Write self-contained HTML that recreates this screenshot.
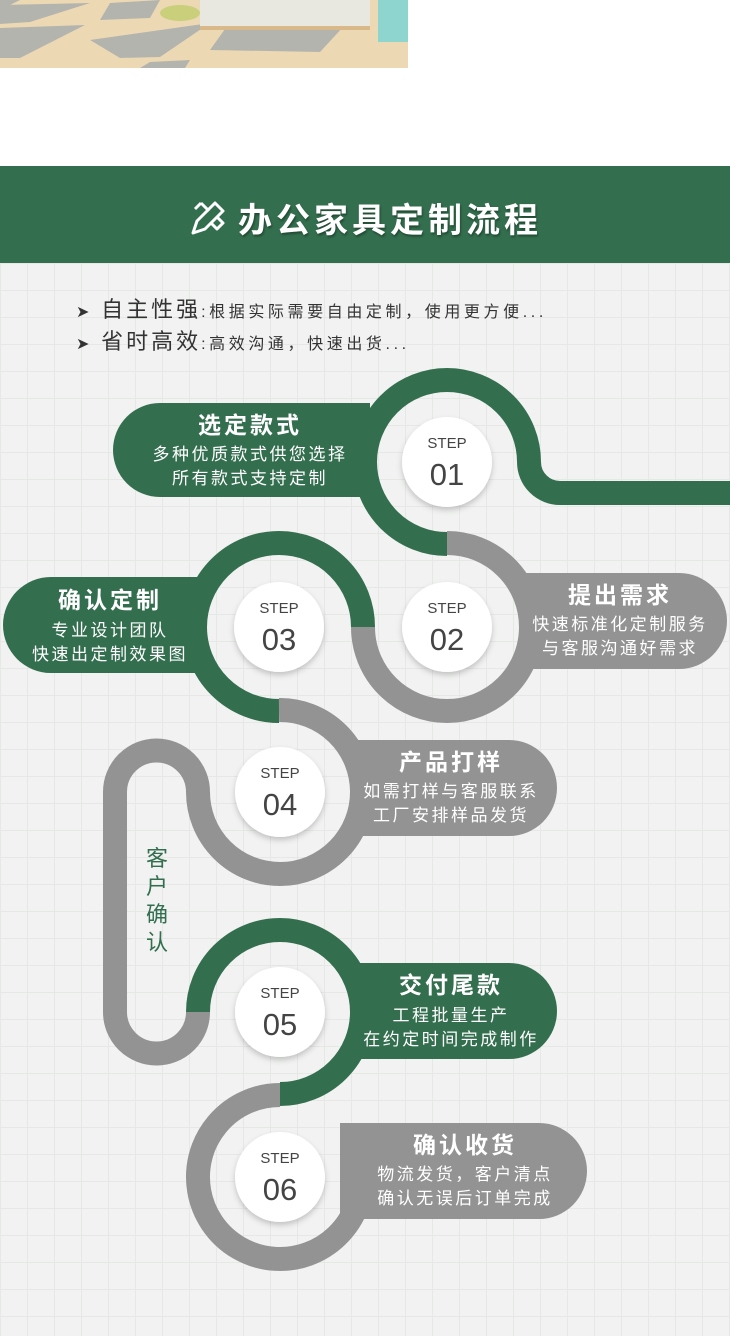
<!DOCTYPE html>
<html><head><meta charset="utf-8"><style>
html,body{margin:0;padding:0;}
body{width:730px;height:1336px;position:relative;overflow:hidden;background:#fff;font-family:"Liberation Sans","Noto Sans CJK SC",sans-serif;}
.grid{position:absolute;left:0;top:263px;width:730px;height:1073px;background-color:#f1f2f1;
background-image:linear-gradient(#e6e8e6 1px,transparent 1px),linear-gradient(90deg,#e6e8e6 1px,transparent 1px);background-size:27px 27px;}
.hdr{position:absolute;left:0;top:166px;width:730px;height:97px;background:#336f4e;}
.ttl{position:absolute;left:238px;top:193px;color:#fff;font-size:34px;font-weight:bold;letter-spacing:4px;text-shadow:1px 2px 2px rgba(0,0,0,.35);}
.b{position:absolute;left:76px;color:#333;font-size:16px;letter-spacing:3.6px;white-space:nowrap;}
.b span{font-size:22px;letter-spacing:3px;}
svg{position:absolute;left:0;top:0;}
</style></head><body>
<div class="grid"></div>
<svg width="408" height="68" viewBox="0 0 408 68" style="left:0;top:0">
<rect width="408" height="68" fill="#ecd9b4"/>
<polygon points="0,0 20,0 0,10" fill="#b4b4ae"/>
<polygon points="0,5 90,3 30,22 0,24" fill="#b4b4ae"/>
<polygon points="110,3 160,0 150,18 100,20" fill="#b4b4ae"/>
<polygon points="0,28 85,25 20,58 0,58" fill="#b4b4ae"/>
<polygon points="90,40 210,23 160,57 120,58" fill="#b4b4ae"/>
<polygon points="230,22 345,25 320,52 210,50" fill="#b4b4ae"/>
<polygon points="150,62 190,60 185,68 140,68" fill="#b4b4ae"/>
<rect x="200" y="0" width="170" height="27" fill="#e9e8e0"/>
<rect x="200" y="26" width="170" height="4" fill="#d9b98a"/>
<ellipse cx="180" cy="13" rx="20" ry="8" fill="#c9cf7a"/>
<rect x="378" y="0" width="30" height="42" fill="#8fd5cf"/>
</svg>
<div class="hdr"></div>
<svg width="40" height="40" viewBox="0 0 40 40" style="left:189px;top:197px">
<g fill="none" stroke="#fff" stroke-width="3" stroke-linejoin="round">
<path d="M4 36 L8 24 L26 6 L34 14 L16 32 Z"/><path d="M12 6 L20 14"/><path d="M6 12 L12 6"/><path d="M22 26 L28 32 L34 26 L28 20"/>
</g></svg>
<div class="ttl">办公家具定制流程</div>
<div class="b" style="top:292px">➤ <span>自主性强</span>:根据实际需要自由定制，使用更方便...</div>
<div class="b" style="top:324px">➤ <span>省时高效</span>:高效沟通，快速出货...</div>

<svg width="730" height="1336" viewBox="0 0 730 1336">
<defs><filter id="sh" x="-30%" y="-30%" width="160%" height="160%"><feDropShadow dx="0" dy="3" stdDeviation="3" flood-color="#000" flood-opacity="0.2"/></filter></defs>
<g>
<path d="M160 403 H370 V497 H160 A47 47 0 0 1 160 403Z" fill="#336f4e"/>
<path d="M520 573 H679 A48 48 0 0 1 679 669 H520Z" fill="#939393"/>
<path d="M51 577 H205 V673 H51 A48 48 0 0 1 51 577Z" fill="#336f4e"/>
<path d="M355 740 H509 A48 48 0 0 1 509 836 H355Z" fill="#939393"/>
<path d="M355 963 H509 A48 48 0 0 1 509 1059 H355Z" fill="#336f4e"/>
<path d="M340 1123 H539 A48 48 0 0 1 539 1219 H340Z" fill="#939393"/>
</g>
<g fill="none" stroke-width="24">
<path d="M730 493 H560 A31 31 0 0 1 529 462 A82 82 0 1 0 447 544" stroke="#336f4e"/>
<path d="M447 543 A84 84 0 1 1 363 627" stroke="#939393"/>
<path d="M363 627 A84 84 0 1 0 279 711" stroke="#336f4e"/>
<path d="M279 710 A82 82 0 1 1 198 792 A41.5 41.5 0 0 0 115 792 V1012 A41.5 41.5 0 0 0 198 1012" stroke="#939393"/>
<path d="M198 1012 A82 82 0 1 1 280 1094" stroke="#336f4e"/>
<path d="M280 1095 A82 82 0 1 0 351 1136" stroke="#939393"/>
</g>
<g fill="#fff" filter="url(#sh)">
<circle cx="447" cy="462" r="45"/><circle cx="447" cy="627" r="45"/><circle cx="279" cy="627" r="45"/>
<circle cx="280" cy="792" r="45"/><circle cx="280" cy="1012" r="45"/><circle cx="280" cy="1177" r="45"/>
</g>
<g fill="#444" text-anchor="middle" font-family="Liberation Sans, sans-serif">
<g font-size="15"><text x="447" y="448">STEP</text><text x="447" y="613">STEP</text><text x="279" y="613">STEP</text><text x="280" y="778">STEP</text><text x="280" y="998">STEP</text><text x="280" y="1163">STEP</text></g>
<g font-size="31"><text x="447" y="485">01</text><text x="447" y="650">02</text><text x="279" y="650">03</text><text x="280" y="815">04</text><text x="280" y="1035">05</text><text x="280" y="1200">06</text></g>
</g>
<g fill="#fff" text-anchor="middle" font-family="Liberation Sans, Noto Sans CJK SC, sans-serif">
<g font-size="23" font-weight="bold" letter-spacing="3"><text x="250" y="433">选定款式</text><text x="620" y="603">提出需求</text><text x="110" y="608">确认定制</text><text x="451" y="770">产品打样</text><text x="451" y="993">交付尾款</text><text x="465" y="1153">确认收货</text></g>
<g font-size="17" letter-spacing="2.5"><text x="250" y="460">多种优质款式供您选择</text><text x="250" y="484">所有款式支持定制</text>
<text x="620" y="630">快速标准化定制服务</text><text x="620" y="654">与客服沟通好需求</text>
<text x="110" y="636">专业设计团队</text><text x="110" y="660">快速出定制效果图</text>
<text x="451" y="797">如需打样与客服联系</text><text x="451" y="821">工厂安排样品发货</text>
<text x="451" y="1021">工程批量生产</text><text x="451" y="1045">在约定时间完成制作</text>
<text x="465" y="1180">物流发货，客户清点</text><text x="465" y="1204">确认无误后订单完成</text></g>
</g>
<g fill="#336f4e" font-size="22" text-anchor="middle" font-family="Liberation Sans, Noto Sans CJK SC, sans-serif">
<text x="157" y="866">客</text><text x="157" y="894">户</text><text x="157" y="922">确</text><text x="157" y="950">认</text>
</g>
</svg>
</body></html>
